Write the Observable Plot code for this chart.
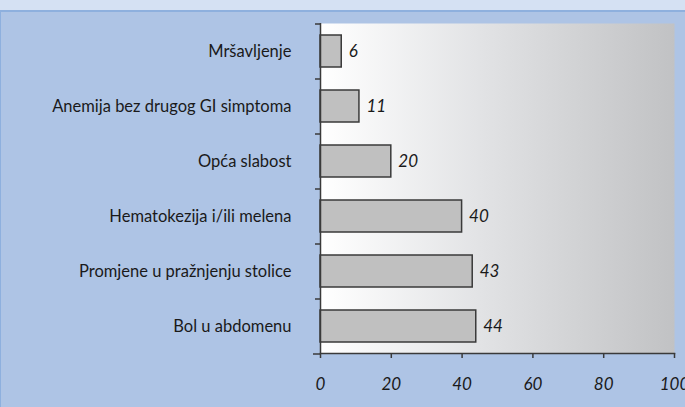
<!DOCTYPE html>
<html><head><meta charset="utf-8">
<script src="https://cdn.jsdelivr.net/npm/d3@7"></script>
<script src="https://cdn.jsdelivr.net/npm/@observablehq/plot@0.6"></script>
<style>
html,body{margin:0;padding:0;}
body{width:685px;height:407px;background:#aec4e5;position:relative;overflow:hidden;font-family:Lato,sans-serif;}
#top{position:absolute;left:0;top:0;width:685px;height:10px;background:#d5e1f3;border-bottom:2px solid #8eb0de;}
#left{position:absolute;left:0;top:12px;width:1px;height:395px;background:#8eb0de;}
#chart{position:absolute;left:0;top:0;}
</style></head>
<body><div id="chart"></div><div id="top"></div><div id="left"></div>
<script>
const categories = ["Mršavljenje","Anemija bez drugog GI simptoma","Opća slabost","Hematokezija i/ili melena","Promjene u pražnjenju stolice","Bol u abdomenu"];
const values = [6, 11, 20, 40, 43, 44];
const xTicks = [0, 20, 40, 60, 80, 100];
const data = categories.map((c, i) => ({category: c, value: values[i]}));
const H = 407, mt = 23, mb = 54;
const step = (H - mt - mb) / categories.length;
const plot = Plot.plot({
  width: 685, height: H,
  marginLeft: 320, marginRight: 11, marginTop: mt, marginBottom: mb,
  style: {background: "transparent", fontFamily: "Lato, sans-serif", fontSize: "16.5px", color: "#1a1a1a", overflow: "visible"},
  x: {domain: [0, 100], ticks: xTicks, label: null},
  y: {domain: categories, paddingInner: 0.42, paddingOuter: 0.21, label: null},
  marks: [
    Plot.frame({fill: "url(#bggrad)", stroke: null}),
    Plot.barX(data, {x: "value", y: "category", fill: "#c0c0c0", stroke: "#3a3a3a", strokeWidth: 1.5}),
    Plot.text(data, {x: "value", y: "category", text: d => String(d.value), dx: 7, textAnchor: "start", fontStyle: "italic", fontSize: 17, fill: "#1a1a1a"}),
    Plot.ruleX([0], {stroke: "#3a3a3a", strokeWidth: 1.5}),
    Plot.frame({anchor: "bottom", stroke: "#3a3a3a", strokeWidth: 1.5}),
    Plot.axisY({tickSize: 0, tickPadding: 29, fontSize: 16.5, fill: "#1a1a1a"}),
    Plot.axisY({tickSize: 5, tickFormat: () => "", dy: -step / 2, stroke: "#3a3a3a", strokeWidth: 1.5}),
    Plot.axisY([categories[categories.length - 1]], {tickSize: 7, tickFormat: () => "", dy: step / 2, stroke: "#3a3a3a", strokeWidth: 1.5}),
    Plot.axisX({ticks: xTicks, tickSize: 5, tickPadding: 19, fontStyle: "italic", fontSize: 17, stroke: "#3a3a3a", strokeWidth: 1.5, fill: "#1a1a1a"})
  ]
});
const ns = "http://www.w3.org/2000/svg";
const defs = document.createElementNS(ns, "defs");
defs.innerHTML = '<linearGradient id="bggrad" x1="0" x2="1" y1="0" y2="0"><stop offset="0" stop-color="#ffffff"/><stop offset="0.45" stop-color="#e2e3e5"/><stop offset="1" stop-color="#c1c2c4"/></linearGradient>';
plot.insertBefore(defs, plot.firstChild);
document.getElementById("chart").appendChild(plot);
</script></body></html>
